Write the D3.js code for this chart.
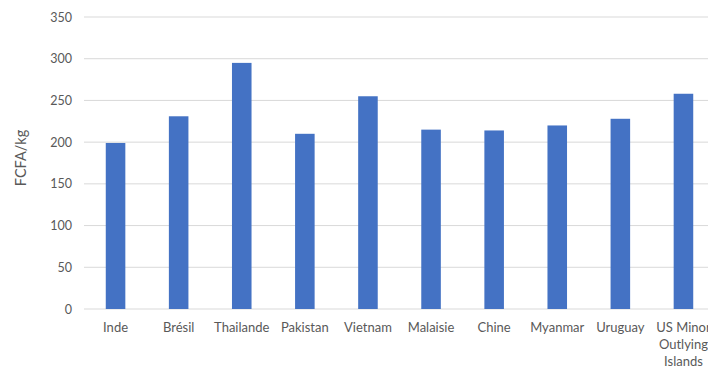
<!DOCTYPE html>
<html>
<head>
<meta charset="utf-8">
<script src="https://cdn.jsdelivr.net/npm/d3@7/dist/d3.min.js"></script>
<style>
  html, body { margin: 0; padding: 0; background: #fff; }
  svg { display: block; }
  text { font-family: Lato, "Open Sans", sans-serif; fill: #595959; }
</style>
</head>
<body>
<svg id="chart" width="708" height="370"></svg>
<script>
const categories = ["Inde", "Brésil", "Thailande", "Pakistan", "Vietnam", "Malaisie", "Chine", "Myanmar", "Uruguay", "US Minor Outlying Islands"];
const prices = [199, 231, 295, 210, 255, 215, 214, 220, 228, 258];
const yTicks = [0, 50, 100, 150, 200, 250, 300, 350];
const yTitle = "FCFA/kg";

const svg = d3.select("#chart");
const plot = { left: 84, right: 715, top: 17, bottom: 309 };

const x = d3.scaleBand().domain(categories).range([plot.left, plot.right]).paddingInner(0.69).paddingOuter(0.345);
const y = d3.scaleLinear().domain([0, 350]).range([plot.bottom, plot.top]);

// horizontal gridlines
svg.append("g")
  .selectAll("line")
  .data(yTicks)
  .join("line")
  .attr("x1", plot.left).attr("x2", plot.right)
  .attr("y1", d => y(d)).attr("y2", d => y(d))
  .attr("stroke", "#d9d9d9").attr("stroke-width", 1);

// y axis labels
const yAxis = svg.append("g")
  .attr("transform", `translate(${plot.left - 12},0)`)
  .call(d3.axisLeft(y).tickValues(yTicks).tickSize(0).tickPadding(0));
yAxis.select(".domain").remove();
yAxis.selectAll("text").attr("font-size", 12.5).attr("fill", "#595959")
  .style("font-family", "Lato, 'Open Sans', sans-serif");

// y axis title
svg.append("text")
  .attr("transform", `translate(26,158) rotate(-90)`)
  .attr("text-anchor", "middle")
  .attr("font-size", 14.5)
  .text(yTitle);

// bars
svg.append("g")
  .selectAll("rect")
  .data(categories.map((c, i) => ({ c, v: prices[i] })))
  .join("rect")
  .attr("x", d => x(d.c))
  .attr("width", x.bandwidth())
  .attr("y", d => y(d.v))
  .attr("height", d => y(0) - y(d.v))
  .attr("fill", "#4472c4");

// x axis labels, wrapped to the band step
const xAxis = svg.append("g")
  .attr("transform", `translate(0,${plot.bottom})`)
  .call(d3.axisBottom(x).tickSize(0).tickPadding(14));
xAxis.select(".domain").remove();
xAxis.selectAll("text")
  .attr("font-size", 13)
  .attr("fill", "#595959")
  .style("font-family", "Lato, 'Open Sans', sans-serif")
  .each(function (d) {
    const t = d3.select(this);
    const words = d.split(" ");
    const maxW = x.step();
    t.text(null);
    let line = [];
    let tspan = t.append("tspan").attr("x", 0).attr("dy", "0.71em");
    for (const w of words) {
      line.push(w);
      tspan.text(line.join(" "));
      if (tspan.node().getComputedTextLength() > maxW && line.length > 1) {
        line.pop();
        tspan.text(line.join(" "));
        line = [w];
        tspan = t.append("tspan").attr("x", 0).attr("dy", "17px").text(w);
      }
    }
  });
</script>
</body>
</html>
